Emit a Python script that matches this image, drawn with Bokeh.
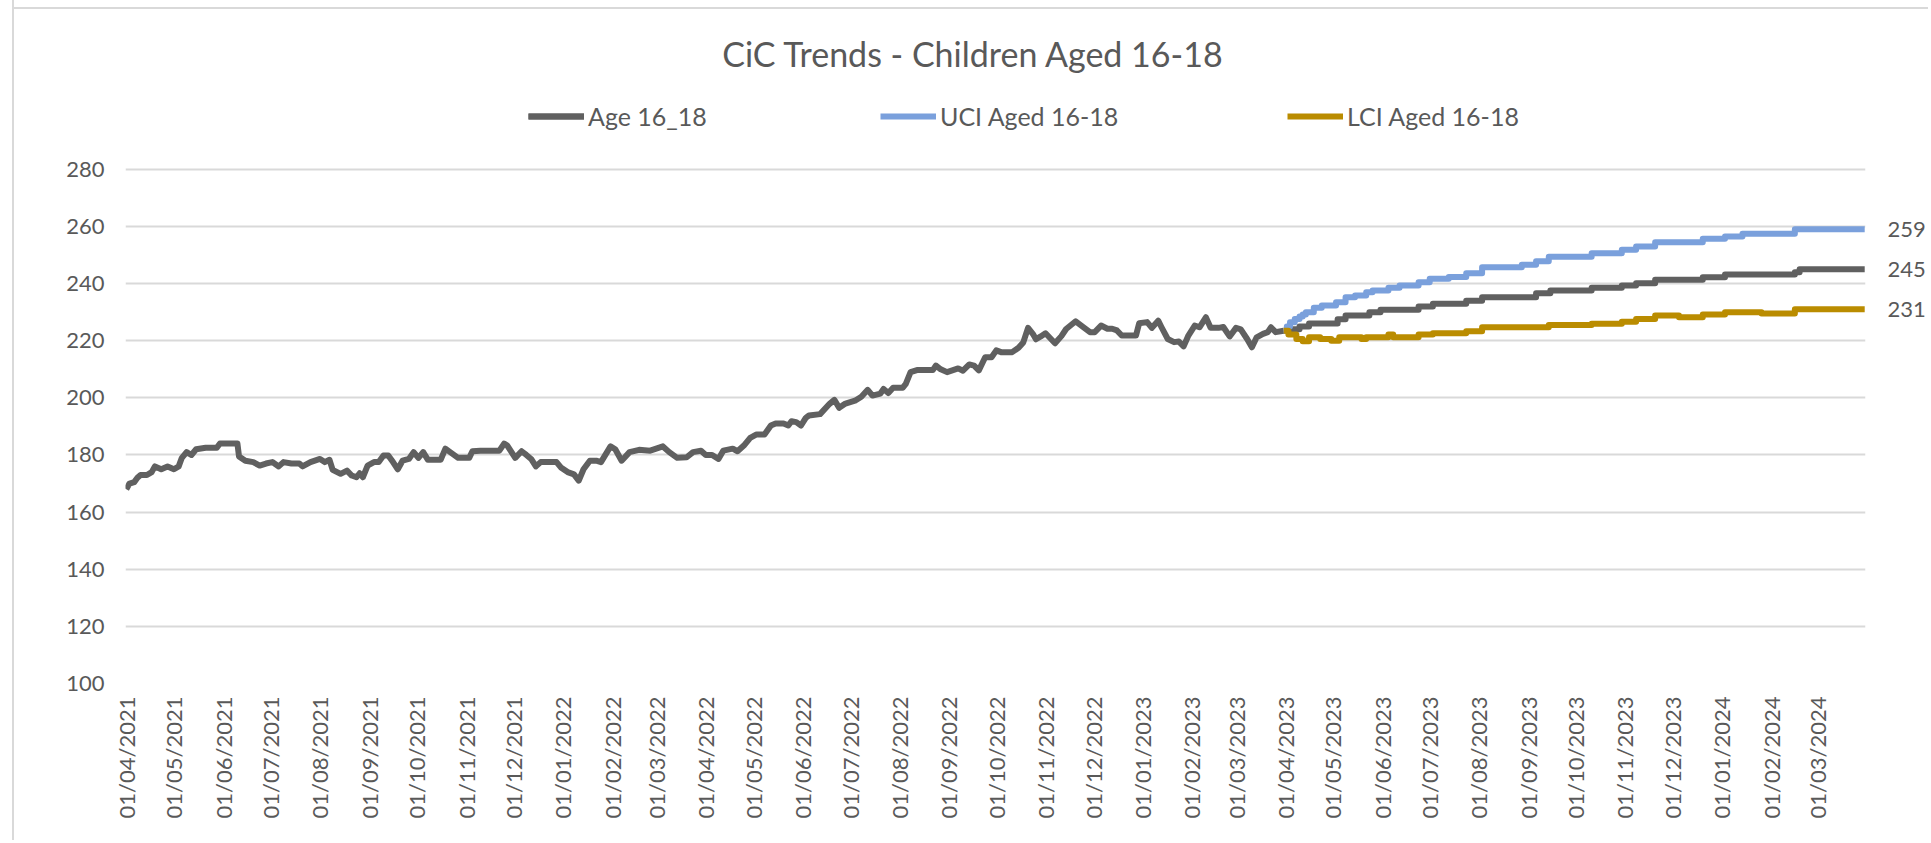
import calendar
from datetime import date, datetime, timedelta

from bokeh.plotting import figure
from bokeh.models import (Range1d, FixedTicker, DatetimeTickFormatter, Legend, LegendItem,
                          Label, LinearAxis)
from bokeh.embed import file_html
from bokeh.resources import INLINE

# ---------------- data ----------------
START = date(2021, 4, 1)          # day 0
END = date(2024, 3, 31)

TITLE = "CiC Trends - Children Aged 16-18"
SERIES_NAMES = ["Age 16_18", "UCI Aged 16-18", "LCI Aged 16-18"]
Y_TICKS = [100, 120, 140, 160, 180, 200, 220, 240, 260, 280]

# actual counts: days since 01/04/2021 and value
actual_days = [0, 2, 5, 7, 9, 13, 16, 18, 22, 26, 30, 33, 35, 38, 41, 44, 50, 57, 59, 70,
               71, 75, 80, 84, 88, 92, 96, 99, 104, 109, 111, 116, 122, 125, 128, 130, 135,
               139, 142, 145, 147, 149, 152, 156, 159, 162, 165, 168, 171, 174, 178, 181,
               184, 187, 190, 198, 201, 204, 209, 216, 218, 223, 235, 238, 240, 245, 249,
               252, 255, 258, 261, 271, 274, 278, 282, 285, 288, 292, 296, 299, 305, 308,
               312, 317, 323, 330, 338, 342, 347, 353, 357, 362, 365, 369, 373, 376, 382,
               385, 389, 393, 397, 402, 406, 409, 414, 417, 419, 422, 425, 428, 430, 437,
               443, 446, 449, 453, 459, 463, 467, 470, 475, 477, 480, 483, 489, 491, 494,
               498, 508, 510, 513, 517, 524, 527, 531, 534, 537, 541, 545, 548, 551, 558,
               562, 565, 568, 571, 573, 576, 579, 585, 589, 592, 598, 603, 607, 610, 614,
               618, 621, 624, 627, 636, 638, 643, 646, 650, 652, 656, 660, 663, 666, 669,
               673, 676, 680, 683, 688, 691, 695, 699, 702, 706, 709, 712, 716, 719, 721,
               724, 729]
actual_vals = [168, 170, 170.5, 172, 173, 173, 174, 176, 175, 176, 175, 176, 179, 181, 180,
               182, 182.5, 182.5, 184, 184, 179.5, 178, 177.5, 176.3, 177, 177.5, 176, 177.5,
               177, 177, 176, 177.5, 178.6, 177.5, 178.3, 174.8, 173.4, 174.5, 172.8, 172.2,
               173.6, 172.2, 176.3, 177.5, 177.5, 179.8, 179.8, 177.5, 175, 178, 178.6, 181,
               179, 181, 178.3, 178.3, 182.2, 181, 179, 179, 181.3, 181.5, 181.5, 184, 183.3,
               179, 181.3, 180, 178.6, 176, 177.5, 177.5, 175.5, 174, 173.2, 171, 175, 178,
               178, 177.5, 183, 182, 178, 181, 181.8, 181.5, 183, 181, 179, 179.2, 181, 181.5,
               180, 180, 178.6, 181.5, 182.2, 181.3, 183.3, 186, 187.2, 187.2, 190.3, 191,
               191, 190.3, 191.8, 191.5, 190.3, 193, 193.8, 194.3, 197.9, 199.3, 196.5, 198,
               199, 200.4, 202.8, 200.8, 201.5, 203.1, 201.7, 203.5, 203.5, 204.9, 209, 209.7,
               209.7, 211.3, 210, 209, 210.3, 209.5, 211.7, 211.3, 209.6, 214.2, 214.2, 216.6,
               216, 216, 217.5, 219.4, 224.5, 222.4, 220.5, 221.5, 222.6, 219.1, 221.6, 224.1,
               226.8, 224.7, 223, 223, 225.3, 224.2, 224.2, 223.6, 221.8, 221.8, 226.1, 226.5,
               224.5, 227, 224.8, 220.6, 219.5, 219.7, 218, 221.8, 225.3, 224.7, 228.2, 224.5,
               224.5, 224.8, 221.5, 224.5, 224, 220.6, 217.7, 221.2, 222.4, 223, 224.7, 223,
               223.5]

# forecast (step changes): days since 01/04/2021 and value
age_fc_days = [729, 733, 739, 745, 763, 768, 783, 790, 814, 823, 844, 854, 888, 897, 923,
               942, 951, 963, 993, 1007, 1051, 1054, 1095]
age_fc_vals = [223.5, 224, 225, 226, 227.5, 228.8, 230, 230.8, 232, 232.9, 234, 235.2, 236.6,
               237.6, 238.5, 239.3, 240.1, 241.3, 242.2, 243.2, 244, 245, 245]

uci_days = [729, 731, 733, 736, 739, 741, 743, 748, 753, 762, 768, 774, 781, 785, 795, 802,
            814, 821, 833, 844, 854, 879, 888, 896, 923, 942, 951, 963, 993, 1007, 1018,
            1051, 1095]
uci_vals = [223.5, 225, 226.5, 227.6, 228.5, 229.2, 230, 231.5, 232.3, 233.5, 235.2, 235.8,
            237, 237.6, 238.5, 239.3, 240.5, 241.7, 242.3, 243.6, 245.7, 246.6, 247.8, 249.4,
            250.6, 251.8, 253, 254.5, 255.7, 256.5, 257.4, 259, 259]

lci_days = [729, 732, 737, 741, 745, 752, 759, 764, 778, 781, 795, 798, 814, 823, 844, 854,
            888, 896, 923, 942, 951, 963, 978, 993, 1007, 1030, 1051, 1095]
lci_vals = [223.5, 222.2, 220.6, 219.8, 221.2, 220.6, 220, 221.2, 220.6, 221.2, 222.2, 221.2,
            222.2, 222.6, 223.3, 224.7, 224.7, 225.5, 225.9, 226.6, 227.6, 228.8, 228.2, 229.2,
            230, 229.5, 231, 231]

# ---------------- styling / layout ----------------
GREY = "#606060"
BLUE = "#7AA0DC"
GOLD = "#BA8C00"
TEXT = "#595959"
GRID = "#D9D9D9"
FONT = "Lato"
TICK_SIZE = "22px"

W, H = 1928, 840
ML, MR, MB = 125, 61, 157          # frame: x 125..1867, bottom at y=683
PX_PER_UNIT = 514.2 / 180.0        # vertical scale of the original plot area
Y_TOP = 100 + (H - MB) / PX_PER_UNIT   # frame reaches the top of the canvas


def to_dt(d):
    dd = START + timedelta(days=d)
    return datetime(dd.year, dd.month, dd.day)


def ms(dt):
    return calendar.timegm(dt.timetuple()) * 1000.0


month_ticks = []
y, m = START.year, START.month
while date(y, m, 1) <= END:
    month_ticks.append(ms(datetime(y, m, 1)))
    m += 1
    if m > 12:
        m, y = 1, y + 1

p = figure(width=W, height=H, output_backend="svg", toolbar_location=None,
           x_axis_type="datetime", title=None,
           x_range=Range1d(to_dt(0) - timedelta(hours=12), to_dt(1095) + timedelta(hours=12)),
           y_range=Range1d(100, Y_TOP),
           min_border_left=ML, min_border_right=MR, min_border_top=0, min_border_bottom=MB)
p.outline_line_color = None
p.background_fill_color = None
p.border_fill_color = None
# light chart-area border (left and top), painted as background stripes
p.styles = {"background": "linear-gradient(to right, transparent 12px, #D9D9D9 12px, "
                          "#D9D9D9 14px, transparent 14px), "
                          "linear-gradient(to bottom, transparent 7px, #D9D9D9 7px, "
                          "#D9D9D9 9px, transparent 9px) 12px 0 / 100% 100% no-repeat, "
                          "white"}

p.xgrid.grid_line_color = None
p.ygrid.grid_line_color = GRID
p.ygrid.grid_line_width = 2

yax = p.yaxis[0]
yax.ticker = FixedTicker(ticks=Y_TICKS)
yax.axis_line_color = None
yax.major_tick_line_color = None
yax.minor_tick_line_color = None
yax.major_tick_out = 0
yax.major_tick_in = 0
yax.major_label_standoff = 21
yax.major_label_text_font = FONT
yax.major_label_text_font_size = TICK_SIZE
yax.major_label_text_color = TEXT

fmt = "%d/%m/%Y"
xax = p.xaxis[0]
xax.ticker = FixedTicker(ticks=month_ticks)
xax.formatter = DatetimeTickFormatter(days=fmt, months=fmt, years=fmt, hours=fmt,
                                      minutes=fmt, seconds=fmt, milliseconds=fmt,
                                      microseconds=fmt, minsec=fmt, hourmin=fmt)
xax.major_label_orientation = 3.14159265 / 2
xax.axis_line_color = None
xax.major_tick_line_color = None
xax.minor_tick_line_color = None
xax.major_tick_out = 0
xax.major_tick_in = 0
xax.major_label_standoff = 13
xax.major_label_text_font = FONT
xax.major_label_text_font_size = TICK_SIZE
xax.major_label_text_color = TEXT

LW = 6
r_act = p.line([to_dt(d) for d in actual_days], actual_vals, line_color=GREY, line_width=LW,
               line_join="round")
r_age = p.step([to_dt(d) for d in age_fc_days], age_fc_vals, mode="after", line_color=GREY,
               line_width=LW, line_join="round")
r_uci = p.step([to_dt(d) for d in uci_days], uci_vals, mode="after", line_color=BLUE,
               line_width=LW, line_join="round")
r_lci = p.step([to_dt(d) for d in lci_days], lci_vals, mode="after", line_color=GOLD,
               line_width=LW, line_join="round")

# end-of-series value labels, as a right-hand axis with ticks at the final values
end_vals = [int(round(uci_vals[-1])), int(round(age_fc_vals[-1])), int(round(lci_vals[-1]))]
rax = LinearAxis(ticker=FixedTicker(ticks=end_vals), axis_line_color=None,
                 major_tick_line_color=None, minor_tick_line_color=None,
                 major_tick_out=0, major_tick_in=0, major_label_standoff=22,
                 major_label_text_font=FONT, major_label_text_font_size=TICK_SIZE,
                 major_label_text_color=TEXT)
p.add_layout(rax, "right")

# legends (one per entry, placed like the original)
leg_x = [403, 755, 1162]
leg_items = [[r_act, r_age], [r_uci], [r_lci]]
for name, rs, lx in zip(SERIES_NAMES, leg_items, leg_x):
    lg = Legend(items=[LegendItem(label=name, renderers=rs)], location=(lx, 552),
                orientation="horizontal", padding=0, margin=0, spacing=0,
                border_line_color=None, background_fill_alpha=0,
                glyph_width=56, glyph_height=30, label_standoff=4,
                label_text_font=FONT, label_text_font_size="25px", label_text_color=TEXT)
    p.add_layout(lg, "center")

# title
p.add_layout(Label(x=848, y=630, x_units="screen", y_units="screen", text=TITLE,
                   text_align="center", text_baseline="middle", text_font=FONT,
                   text_font_size="34px", text_color=TEXT))

open("out.html", "w").write(file_html(p, INLINE))
